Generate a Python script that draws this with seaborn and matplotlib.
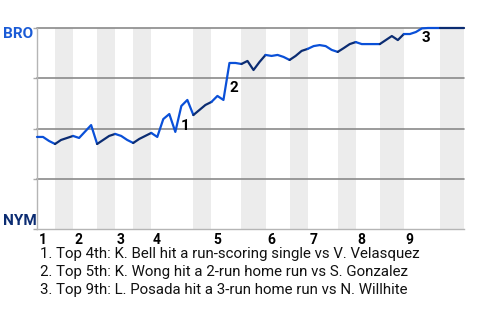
# Win probability chart - BRO @ NYM
import numpy as np
import pandas as pd
import matplotlib
matplotlib.use("Agg")
import matplotlib.pyplot as plt
import seaborn as sns

# ----------------------------
# Data
# ----------------------------
# BRO win probability (%) after each play
bro_win = [45.8, 45.8, 43.8, 42.3, 44.3, 45.3, 46.3, 45.3, 48.5, 51.7,
           42.3, 44.3, 46.3, 47.3, 46.3, 44.3, 42.8, 44.8, 46.3, 47.8,
           45.8, 54.7, 57.2, 48.3, 61.2, 64.2, 56.7, 59.2, 61.7, 63.2,
           66.2, 64.2, 82.6, 82.6, 82.1, 83.6, 79.1, 83.1, 86.6, 86.1,
           86.6, 85.6, 84.1, 86.1, 88.6, 89.6, 91.0, 91.5, 91.0, 89.1,
           88.1, 90.0, 92.0, 93.0, 92.0, 92.0, 92.0, 92.0, 94.0, 96.0,
           94.0, 97.0, 97.0, 98.0, 99.8, 100, 100, 100, 100, 100,
           100, 100]

# play index where each half inning starts (last value = end of game)
half_starts = [0, 3, 6, 10, 13, 16, 19, 26, 29, 34, 38, 42, 45, 50, 53, 57, 61, 67, 71]
innings = ["1", "2", "3", "4", "5", "6", "7", "8", "9"]

event_plays = [24, 32, 64]
event_labels = ["1", "2", "3"]
notes = [
    "1. Top 4th: K. Bell hit a run-scoring single vs V. Velasquez",
    "2. Top 5th: K. Wong hit a 2-run home run vs S. Gonzalez",
    "3. Top 9th: L. Posada hit a 3-run home run vs N. Willhite",
]

# ----------------------------
# Style
# ----------------------------
sns.set_theme(style="white")
plt.rcParams["font.family"] = ["Roboto", "DejaVu Sans"]

bro_color = "#0a50d8"
nym_color = "#0b2c72"
band_color = "#ececec"
grid_color = "#8a8a8a"

df = pd.DataFrame({"play": np.arange(len(bro_win)), "win": bro_win})

fig = plt.figure(figsize=(4.8, 3.2), dpi=100)
ax = fig.add_axes([37 / 480, 1 - 229 / 320, 427 / 480, 201 / 320])

# shaded bottom halves
for k in range(len(half_starts) - 1):
    if k % 2 == 1:
        ax.axvspan(half_starts[k], half_starts[k + 1], color=band_color, lw=0, zorder=0)

for yv in [25, 50, 75, 100]:
    ax.axhline(yv, color=grid_color, lw=1.2, zorder=1, clip_on=False)

# line, one piece per half inning
for k in range(len(half_starts) - 1):
    part = df.iloc[half_starts[k]:half_starts[k + 1] + 1]
    sns.lineplot(data=part, x="play", y="win", ax=ax,
                 color=bro_color if k % 2 == 0 else nym_color,
                 lw=1.6, zorder=3, clip_on=False)

# event numbers
offsets = [(4, -20), (4, -25), (4, -10)]
for p, lab, off in zip(event_plays, event_labels, offsets):
    ax.annotate(lab, (p, bro_win[p]), xytext=(off[0] * 0.72, off[1] * 0.72),
                textcoords="offset points", ha="center", va="center",
                fontsize=11, fontweight="bold", color="black", zorder=4)

ax.set_xlim(0, half_starts[-1])
ax.set_ylim(0, 100)
ax.set_xlabel("")
ax.set_ylabel("")
ax.set_xticks([])
ax.set_yticks([0, 25, 50, 75, 100])
ax.set_yticklabels([])
ax.tick_params(axis="y", left=True, length=3, width=1, color="#aaaaaa")
for s in ["top", "right"]:
    ax.spines[s].set_visible(False)
ax.spines["left"].set_color("#b5b5b5")
ax.spines["bottom"].set_color("#b5b5b5")
ax.spines["left"].set_linewidth(1)
ax.spines["bottom"].set_linewidth(1)

# team labels
fig.text(3 / 480, 1 - 27 / 320, "BRO", ha="left", va="top",
         fontsize=11, fontweight="bold", color="#1a5bd6")
fig.text(3 / 480, 1 - 228 / 320, "NYM", ha="left", va="bottom",
         fontsize=11, fontweight="bold", color=nym_color)

# inning numbers
for i, lab in enumerate(innings):
    ax.text(half_starts[2 * i] + 0.3, -2, lab, ha="left", va="top",
            fontsize=10, fontweight="bold", color="black")

# notes
for j, line in enumerate(notes):
    fig.text(40 / 480, 1 - (258 + 18 * j) / 320, line, ha="left",
             va="baseline", fontsize=10.8, color="#111111")

plt.savefig("out.png", dpi=100)
